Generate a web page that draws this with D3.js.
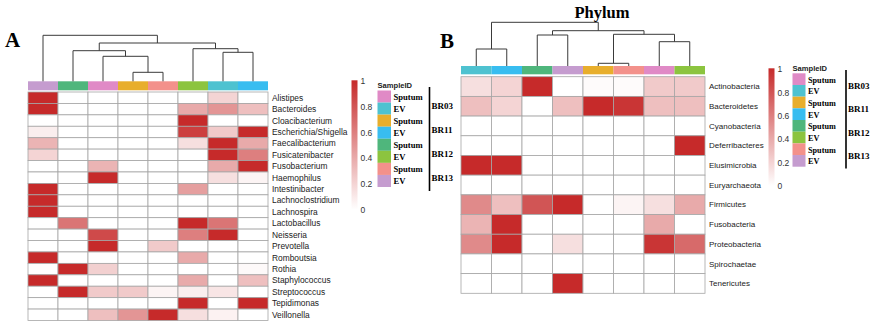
<!DOCTYPE html>
<html>
<head>
<meta charset="utf-8">
<script src="https://cdn.jsdelivr.net/npm/d3@7"></script>
<style>
    body { margin: 0; background: #fff; }
    svg { display: block; }
    .rowlab { font-family: "Liberation Sans", Arial, sans-serif; fill: #222; }
    .tick-lab { font-family: "Liberation Sans", Arial, sans-serif; fill: #333; }
    .serif { font-family: "Liberation Serif", "Times New Roman", serif; font-weight: bold; fill: #000; }
</style>
</head>
<body>
<div id="chart"></div>
<script>
// samples (legend order)
const subjects = ["BR03", "BR11", "BR12", "BR13"];
const sampleTypes = ["Sputum", "EV"];
const sampleIds = ["BR03 Sputum", "BR03 EV", "BR11 Sputum", "BR11 EV",
    "BR12 Sputum", "BR12 EV", "BR13 Sputum", "BR13 EV"];

// panel A - genus
const genusColumns = ["BR13 EV", "BR12 Sputum", "BR03 Sputum", "BR11 Sputum",
    "BR13 Sputum", "BR12 EV", "BR03 EV", "BR11 EV"];
const genera = ["Alistipes", "Bacteroides", "Cloacibacterium", "Escherichia/Shigella",
    "Faecalibacterium", "Fusicatenibacter", "Fusobacterium", "Haemophilus",
    "Intestinibacter", "Lachnoclostridium", "Lachnospira", "Lactobacillus",
    "Neisseria", "Prevotella", "Romboutsia", "Rothia", "Staphylococcus",
    "Streptococcus", "Tepidimonas", "Veillonella"];
const genusValues = [
    [1, 0, 0, 0, 0, 0, 0.2, 0],
    [1, 0, 0, 0, 0, 0.4, 0.5, 0.3],
    [0, 0, 0, 0, 0, 1, 0, 0],
    [0.08, 0, 0, 0, 0, 0.9, 0.25, 1],
    [0.35, 0, 0, 0, 0, 0.15, 1, 0.4],
    [0.2, 0, 0, 0, 0, 0, 1, 0.6],
    [0, 0, 0.35, 0, 0, 0, 0.4, 1],
    [0, 0, 1, 0, 0, 0, 0.15, 0.05],
    [1, 0, 0, 0, 0, 0.45, 0, 0],
    [1, 0, 0, 0, 0, 0, 0, 0],
    [1, 0, 0, 0, 0, 0, 0, 0],
    [0, 0.65, 0, 0, 0, 1, 0.65, 0],
    [0, 0, 0.85, 0, 0, 0.6, 1, 0],
    [0, 0, 1, 0, 0.25, 0, 0, 0],
    [1, 0, 0, 0, 0, 0.4, 0, 0],
    [0, 1, 0.22, 0, 0, 0, 0, 0.03],
    [1, 0, 0, 0, 0, 0.4, 0, 0.3],
    [0, 1, 0.25, 0.25, 0.05, 0.08, 0.12, 0],
    [0, 0, 0, 0, 0, 1, 0, 1],
    [0, 0, 0.3, 0.5, 1, 0.15, 0.06, 0]
];
// column clustering: [left, right, height], numbers are column positions
const genusTree = [0, [[1, [2, [3, 4, 9], 25], 30.6], [5, [6, 7, 29], 32.6], 38.3], 46];

// panel B - phylum
const phylumColumns = ["BR03 EV", "BR11 EV", "BR12 Sputum", "BR13 EV",
    "BR11 Sputum", "BR13 Sputum", "BR03 Sputum", "BR12 EV"];
const phyla = ["Actinobacteria", "Bacteroidetes", "Cyanobacteria", "Deferribacteres",
    "Elusimicrobia", "Euryarchaeota", "Firmicutes", "Fusobacteria",
    "Proteobacteria", "Spirochaetae", "Tenericutes"];
const phylumValues = [
    [0.15, 0.2, 1, 0, 0.02, 0.02, 0.25, 0.25],
    [0.3, 0.2, 0, 0.3, 1, 0.95, 0.3, 0.3],
    [0, 0, 0, 0, 0, 0, 0, 0],
    [0, 0, 0, 0, 0, 0, 0, 1],
    [1, 1, 0, 0, 0, 0, 0, 0],
    [0, 0, 0, 0, 0, 0, 0, 0],
    [0.55, 0.3, 0.8, 1, 0, 0.05, 0.15, 0.4],
    [0.35, 1, 0, 0, 0, 0, 0.4, 0],
    [0.55, 1, 0, 0.15, 0, 0, 0.95, 0.7],
    [0, 0, 0, 0, 0, 0, 0, 0],
    [0, 0, 0, 1, 0, 0, 0, 0]
];
const phylumTree = [[0, 1, 17], [[2, 3, 31], [[4, 5, 2.7], [6, 7, 24.3], 31.7], 35.3], 43.7];

const colorTicks = [0, 0.2, 0.4, 0.6, 0.8, 1];

// styles
const sampleColor = {
    "BR03 Sputum": "#e08ac6", "BR03 EV": "#4ec2d0",
    "BR11 Sputum": "#e8ae2c", "BR11 EV": "#38bdf0",
    "BR12 Sputum": "#4fb67c", "BR12 EV": "#8cc43f",
    "BR13 Sputum": "#f3918b", "BR13 EV": "#c59ccf"
};
const maxRed = "#c62a2a";
const color = d3.scaleLinear().domain([0, 1]).range(["#ffffff", maxRed]).interpolate(d3.interpolateRgb);

const svg = d3.select("#chart").append("svg")
    .attr("width", 871).attr("height", 323);

const grad = svg.append("defs").append("linearGradient")
    .attr("id", "heatGrad").attr("x1", 0).attr("y1", 1).attr("x2", 0).attr("y2", 0);
grad.selectAll("stop").data(colorTicks).join("stop")
    .attr("offset", d => d)
    .attr("stop-color", d => color(d));

function drawHeatmap(opt) {
    const g = svg.append("g");
    const x = d3.scaleBand().domain(opt.columns).range([opt.x0, opt.x1]);
    const y = d3.scaleBand().domain(opt.rows).range([opt.y0, opt.y1]);

    const cells = opt.rows.flatMap((r, i) => opt.columns.map((c, j) => ({ r, c, v: opt.values[i][j] })));
    g.selectAll(".cell").data(cells).join("rect")
        .attr("class", "cell")
        .attr("x", d => x(d.c))
        .attr("y", d => y(d.r))
        .attr("width", x.bandwidth())
        .attr("height", y.bandwidth())
        .attr("fill", d => color(d.v))
        .attr("stroke", "#a6a6a6")
        .attr("stroke-width", 0.8);

    // annotation bar
    g.selectAll(".anno").data(opt.columns).join("rect")
        .attr("class", "anno")
        .attr("x", d => x(d))
        .attr("y", opt.annoY)
        .attr("width", x.bandwidth())
        .attr("height", opt.annoH)
        .attr("fill", d => sampleColor[d]);

    g.selectAll(".rowlab").data(opt.rows).join("text")
        .attr("class", "rowlab")
        .attr("x", opt.x1 + 4)
        .attr("y", d => y(d) + y.bandwidth() / 2)
        .attr("dy", "0.35em")
        .style("font-size", opt.labelSize + "px")
        .text(d => d);

    // dendrogram
    const hy = d3.scaleLinear().domain([0, opt.tree[2]]).range([opt.annoY, opt.topY]);
    const links = [];
    function walk(node) {
        if (typeof node === "number") {
            return { x: x(opt.columns[node]) + x.bandwidth() / 2, h: 0 };
        }
        const l = walk(node[0]), r = walk(node[1]);
        links.push(`M${l.x},${hy(l.h)}V${hy(node[2])}H${r.x}V${hy(r.h)}`);
        return { x: (l.x + r.x) / 2, h: node[2] };
    }
    walk(opt.tree);
    g.selectAll(".dendro").data(links).join("path")
        .attr("class", "dendro")
        .attr("d", d => d)
        .attr("fill", "none")
        .attr("stroke", "#3a3a3a")
        .attr("stroke-width", 1);
}

function drawColorKey(opt) {
    const g = svg.append("g");
    const s = d3.scaleLinear().domain([0, 1]).range([opt.y0, opt.y1]);
    g.append("rect")
        .attr("x", opt.x)
        .attr("y", s(1) - 1)
        .attr("width", 6)
        .attr("height", s(0) - s(1) + 1)
        .attr("fill", "url(#heatGrad)");
    g.selectAll("text").data(colorTicks).join("text")
        .attr("class", "tick-lab")
        .attr("x", opt.labelX)
        .attr("y", d => s(d))
        .attr("dy", "0.35em")
        .style("font-size", "8.5px")
        .text(d => d);
}

function drawSampleKey(opt) {
    const g = svg.append("g");
    const s = d3.scaleBand().domain(sampleIds).range([opt.y0, opt.y1]);
    g.append("text")
        .attr("x", opt.x)
        .attr("y", opt.titleY)
        .attr("dy", "0.35em")
        .style("font-family", "Liberation Sans, Arial, sans-serif")
        .style("font-weight", "bold")
        .style("font-size", "7.6px")
        .attr("fill", "#222")
        .text("SampleID");
    g.selectAll(".sw").data(sampleIds).join("rect")
        .attr("class", "sw")
        .attr("x", opt.x)
        .attr("y", d => s(d))
        .attr("width", opt.w)
        .attr("height", s.bandwidth())
        .attr("fill", d => sampleColor[d]);
    g.selectAll(".swlab").data(sampleIds).join("text")
        .attr("class", "serif")
        .attr("x", opt.x + opt.w + 2.5)
        .attr("y", d => s(d) + s.bandwidth() / 2 + 0.5)
        .attr("dy", "0.35em")
        .style("font-size", opt.font + "px")
        .text(d => d.split(" ")[1]);
    g.append("line")
        .attr("x1", opt.bx).attr("x2", opt.bx)
        .attr("y1", opt.by0).attr("y2", opt.by1)
        .attr("stroke", "#000").attr("stroke-width", 1.6);
    g.selectAll(".subj").data(subjects).join("text")
        .attr("class", "serif")
        .attr("x", opt.bx + 2)
        .attr("y", d => s(d + " Sputum") + s.bandwidth() + opt.subjOff)
        .attr("dy", "0.35em")
        .style("font-size", "9px")
        .text(d => d);
}

drawHeatmap({
    columns: genusColumns, rows: genera, values: genusValues, tree: genusTree,
    x0: 28, x1: 268, y0: 92, y1: 320.5, annoY: 81.3, annoH: 9, topY: 35.3, labelSize: 8.4
});
drawHeatmap({
    columns: phylumColumns, rows: phyla, values: phylumValues, tree: phylumTree,
    x0: 461, x1: 705, y0: 76.7, y1: 293.3, annoY: 66, annoH: 8.3, topY: 22.3, labelSize: 8
});

drawColorKey({ x: 351.5, y0: 209.7, y1: 81.3, labelX: 360.5 });
drawColorKey({ x: 768.5, y0: 186, y1: 69.3, labelX: 777.5 });

drawSampleKey({ x: 377.5, w: 13.5, y0: 90.5, y1: 187, titleY: 85, font: 8.6,
    bx: 429.5, by0: 87, by1: 191, subjOff: 3 });
drawSampleKey({ x: 792.5, w: 13, y0: 73.3, y1: 166.7, titleY: 68, font: 8.2,
    bx: 846, by0: 70, by1: 168.5, subjOff: 1 });

// panel letters and title
svg.append("text").attr("class", "serif").attr("x", 5).attr("y", 47)
    .style("font-size", "21px").text("A");
svg.append("text").attr("class", "serif").attr("x", 440).attr("y", 48)
    .style("font-size", "21px").text("B");
svg.append("text").attr("class", "serif").attr("x", 602).attr("y", 18)
    .attr("text-anchor", "middle")
    .style("font-size", "16.5px").text("Phylum");
</script>
</body>
</html>
